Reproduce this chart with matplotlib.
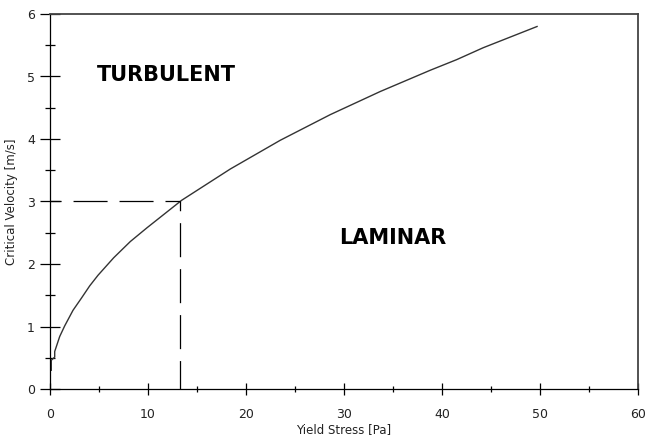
import matplotlib
matplotlib.use('Agg')
import matplotlib.pyplot as plt
from matplotlib.ticker import MultipleLocator

# values
yield_stress = [0.13, 0.13, 0.48, 0.48, 0.99, 1.5, 2.35, 3.19, 4.05, 4.9, 6.5,
                8.2, 9.9, 13.44, 18.4, 23.5, 28.6, 33.7, 38.8, 41.5, 44.2, 49.7]
crit_velocity = [0.30, 0.46, 0.51, 0.60, 0.84, 1.01, 1.26, 1.45, 1.65, 1.82,
                 2.1, 2.36, 2.58, 3.02, 3.52, 3.98, 4.39, 4.76, 5.10, 5.27,
                 5.46, 5.8]
design_stress = 13.3
design_velocity = 3.0

plt.rcParams['font.family'] = ['DejaVu Sans']
plt.rcParams['lines.scale_dashes'] = False

fig = plt.figure(figsize=(6.55, 4.36), dpi=100)
ax = fig.add_axes([50/655, 47/436, 588/655, 375/436])

ax.plot(yield_stress, crit_velocity, color='#333333', lw=1.0)

# dashed guide lines to the design point
ax.plot([0, design_stress], [design_velocity, design_velocity], color='black',
        lw=0.9, linestyle=(16.5, (24.5, 8.6)))
ax.plot([design_stress, design_stress], [design_velocity, 0], color='black',
        lw=0.9, linestyle=(17.5, (24.5, 8.6)))

ax.text(11.9, 5.02, 'TURBULENT', fontsize=15, fontweight='bold',
        ha='center', va='center')
ax.text(34.95, 2.42, 'LAMINAR', fontsize=15, fontweight='bold',
        ha='center', va='center')

ax.set_xlim(0, 60)
ax.set_ylim(0, 6)
ax.xaxis.set_major_locator(MultipleLocator(10))
ax.xaxis.set_minor_locator(MultipleLocator(5))
ax.yaxis.set_major_locator(MultipleLocator(1))
ax.yaxis.set_minor_locator(MultipleLocator(0.5))

ax.tick_params(axis='y', which='major', direction='inout', length=14.4,
               width=0.9, pad=3.6, labelsize=9, labelcolor='#222222')
ax.tick_params(axis='y', which='minor', direction='inout', length=7.2, width=0.9)
ax.tick_params(axis='x', which='major', direction='inout', length=8.0,
               width=0.9, pad=10.0, labelsize=9, labelcolor='#222222')
ax.tick_params(axis='x', which='minor', direction='inout', length=4.3, width=0.9)

for side in ['left', 'bottom']:
    ax.spines[side].set_linewidth(0.9)
for side in ['top', 'right']:
    ax.spines[side].set_linewidth(1.3)
    ax.spines[side].set_color('#444444')

ax.set_xlabel('Yield Stress [Pa]', fontsize=8.5, color='#222222')
ax.set_ylabel('Critical Velocity [m/s]', fontsize=8.5, color='#222222')
ax.xaxis.set_label_coords(0.5, -0.092)
ax.yaxis.set_label_coords(-0.054, 0.5)

fig.savefig('out.png', dpi=100)
